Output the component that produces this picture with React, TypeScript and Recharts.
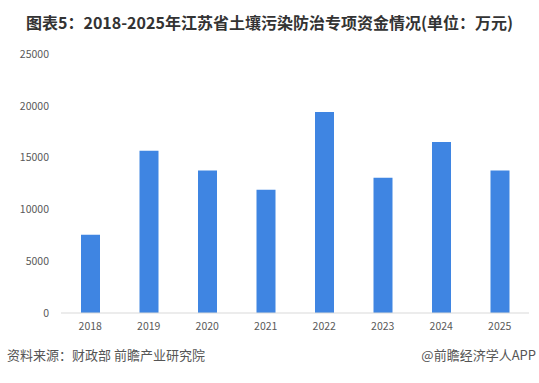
import React from 'react';
import { BarChart, Bar, XAxis, YAxis } from 'recharts';

const years = ['2018', '2019', '2020', '2021', '2022', '2023', '2024', '2025'];
const funds = [7550, 15650, 13750, 11900, 19400, 13050, 16500, 13750];
const yTicks = [0, 5000, 10000, 15000, 20000, 25000];

const data = years.map((year, i) => ({ year, value: funds[i] }));

const FONT = '"Noto Sans CJK SC", "Noto Sans", sans-serif';

const App: React.FC = () => {
  return (
    <div
      style={{
        position: 'absolute',
        left: 0,
        top: 0,
        width: 539,
        height: 383,
        background: '#fff',
        fontFamily: FONT,
        overflow: 'hidden',
      }}
    >
      <div
        style={{
          position: 'absolute',
          top: 10,
          left: 0,
          width: 539,
          textAlign: 'center',
          fontSize: 16,
          fontWeight: 700,
          color: '#333',
          lineHeight: '24px',
        }}
      >
        图表5：2018-2025年江苏省土壤污染防治专项资金情况(单位：万元)
      </div>
      <div style={{ position: 'absolute', top: 0, left: 0 }}>
        <BarChart
          width={539}
          height={345}
          data={data}
          margin={{ top: 54, right: 10, left: 0, bottom: 2 }}
        >
          <XAxis
            dataKey="year"
            height={30}
            tickLine={false}
            axisLine={{ stroke: '#d9d9d9' }}
            tick={{ fill: '#595959', fontSize: 10.5, fontFamily: FONT }}
            tickMargin={4}
          />
          <YAxis
            width={61}
            domain={[0, 25000]}
            ticks={yTicks}
            tickLine={false}
            axisLine={false}
            tick={{ fill: '#595959', fontSize: 10.5, fontFamily: FONT }}
            tickMargin={6}
          />
          <Bar dataKey="value" fill="#3f85e2" barSize={19} isAnimationActive={false} />
        </BarChart>
      </div>
      <div
        style={{
          position: 'absolute',
          top: 346,
          left: 7,
          fontSize: 13,
          color: '#555',
          lineHeight: '18px',
        }}
      >
        资料来源：财政部 前瞻产业研究院
      </div>
      <div
        style={{
          position: 'absolute',
          top: 346,
          right: 3,
          fontSize: 13,
          color: '#555',
          lineHeight: '18px',
        }}
      >
        @前瞻经济学人APP
      </div>
    </div>
  );
};

export default App;
